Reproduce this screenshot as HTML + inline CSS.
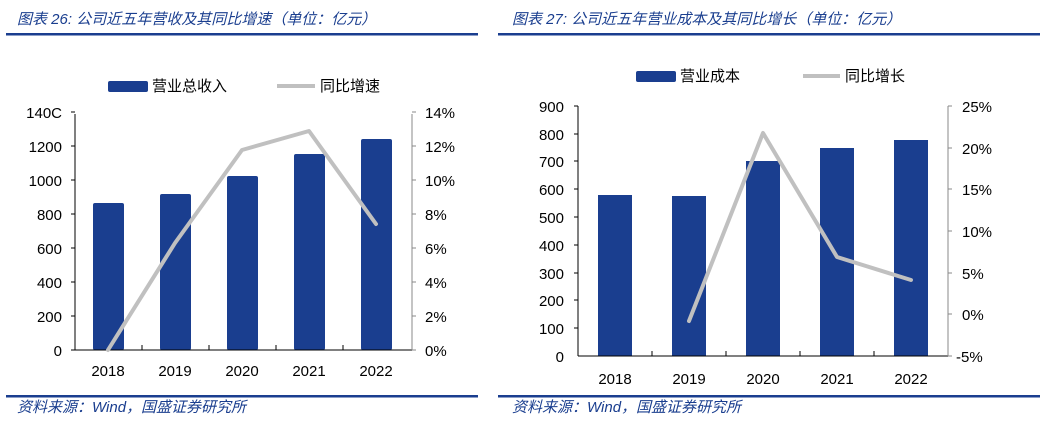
<!DOCTYPE html>
<html><head><meta charset="utf-8"><style>
body{margin:0;background:#fff;}
svg{display:block;font-family:"Liberation Sans","Noto Sans CJK SC",sans-serif;}
.t{font-size:15px;fill:#000}
.ti{font-size:15px;fill:#1a3e8f;font-style:italic}
</style></head><body>
<svg width="1046" height="428" viewBox="0 0 1046 428">
<!-- headers -->
<text x="17" y="24" class="ti">图表 26:  公司近五年营收及其同比增速（单位：亿元）</text>
<rect x="6" y="33" width="472" height="2.5" fill="#1a3e8f"/>
<text x="512" y="24" class="ti">图表 27:  公司近五年营业成本及其同比增长（单位：亿元）</text>
<rect x="498" y="33" width="542" height="2.5" fill="#1a3e8f"/>
<rect x="6" y="395" width="472" height="2.5" fill="#1a3e8f"/>
<rect x="498" y="395" width="542" height="2.5" fill="#1a3e8f"/>
<text x="17" y="412" class="ti">资料来源：Wind，国盛证券研究所</text>
<text x="512" y="412" class="ti">资料来源：Wind，国盛证券研究所</text>

<!-- left chart -->
<rect x="108" y="81" width="40" height="11" rx="2" fill="#1a3e8f"/>
<text x="152" y="91" class="t">营业总收入</text>
<line x1="277" y1="86" x2="315" y2="86" stroke="#c0c0c0" stroke-width="4"/>
<text x="320" y="91" class="t">同比增速</text>
<g fill="#1a3e8f">
<rect x="93" y="203" width="31" height="147" rx="2"/>
<rect x="160" y="194" width="31" height="156" rx="2"/>
<rect x="227" y="176" width="31" height="174" rx="2"/>
<rect x="294" y="154" width="31" height="196" rx="2"/>
<rect x="361" y="139" width="31" height="211" rx="2"/>
</g>
<line x1="75" y1="114" x2="75" y2="350" stroke="#000"/>
<line x1="75" y1="350" x2="412" y2="350" stroke="#000"/>
<line x1="412" y1="114" x2="412" y2="350" stroke="#888"/>
<g stroke="#000">
<line x1="71" y1="112" x2="75" y2="112"/><line x1="71" y1="146" x2="75" y2="146"/><line x1="71" y1="180" x2="75" y2="180"/><line x1="71" y1="214" x2="75" y2="214"/><line x1="71" y1="248" x2="75" y2="248"/><line x1="71" y1="282" x2="75" y2="282"/><line x1="71" y1="316" x2="75" y2="316"/><line x1="71" y1="350" x2="75" y2="350"/>
<line x1="142" y1="345" x2="142" y2="350"/><line x1="209" y1="345" x2="209" y2="350"/><line x1="276" y1="345" x2="276" y2="350"/><line x1="343" y1="345" x2="343" y2="350"/>
</g>
<g stroke="#888">
<line x1="412" y1="112" x2="416" y2="112"/><line x1="412" y1="146" x2="416" y2="146"/><line x1="412" y1="180" x2="416" y2="180"/><line x1="412" y1="214" x2="416" y2="214"/><line x1="412" y1="248" x2="416" y2="248"/><line x1="412" y1="282" x2="416" y2="282"/><line x1="412" y1="316" x2="416" y2="316"/><line x1="412" y1="350" x2="416" y2="350"/>
</g>
<g class="t" text-anchor="end">
<text x="62" y="118" class="t">140C</text><text x="62" y="152" class="t">1200</text><text x="62" y="186" class="t">1000</text><text x="62" y="220" class="t">800</text><text x="62" y="254" class="t">600</text><text x="62" y="288" class="t">400</text><text x="62" y="322" class="t">200</text><text x="62" y="356" class="t">0</text>
</g>
<g>
<text x="425" y="118" class="t">14%</text><text x="425" y="152" class="t">12%</text><text x="425" y="186" class="t">10%</text><text x="425" y="220" class="t">8%</text><text x="425" y="254" class="t">6%</text><text x="425" y="288" class="t">4%</text><text x="425" y="322" class="t">2%</text><text x="425" y="356" class="t">0%</text>
</g>
<g text-anchor="middle">
<text x="108" y="376" class="t">2018</text><text x="175" y="376" class="t">2019</text><text x="242" y="376" class="t">2020</text><text x="309" y="376" class="t">2021</text><text x="376" y="376" class="t">2022</text>
</g>
<polyline points="108,350 175,243 242,150 309,131 376,224" fill="none" stroke="#c0c0c0" stroke-width="4" stroke-linejoin="round" stroke-linecap="round"/>

<!-- right chart -->
<rect x="636" y="71" width="40" height="11" rx="2" fill="#1a3e8f"/>
<text x="680" y="81" class="t">营业成本</text>
<line x1="803" y1="76" x2="840" y2="76" stroke="#c0c0c0" stroke-width="4"/>
<text x="845" y="81" class="t">同比增长</text>
<g fill="#1a3e8f">
<rect x="598" y="195" width="34" height="161"/>
<rect x="672" y="196" width="34" height="160"/>
<rect x="746" y="161" width="34" height="195"/>
<rect x="820" y="148" width="34" height="208"/>
<rect x="894" y="140" width="34" height="216"/>
</g>
<line x1="578" y1="106" x2="578" y2="356" stroke="#000"/>
<line x1="578" y1="356" x2="948" y2="356" stroke="#000"/>
<line x1="948" y1="106" x2="948" y2="356" stroke="#888"/>
<g stroke="#000">
<line x1="574" y1="106" x2="578" y2="106"/><line x1="574" y1="134" x2="578" y2="134"/><line x1="574" y1="161" x2="578" y2="161"/><line x1="574" y1="189" x2="578" y2="189"/><line x1="574" y1="217" x2="578" y2="217"/><line x1="574" y1="245" x2="578" y2="245"/><line x1="574" y1="273" x2="578" y2="273"/><line x1="574" y1="300" x2="578" y2="300"/><line x1="574" y1="328" x2="578" y2="328"/>
<line x1="652" y1="351" x2="652" y2="356"/><line x1="726" y1="351" x2="726" y2="356"/><line x1="800" y1="351" x2="800" y2="356"/><line x1="874" y1="351" x2="874" y2="356"/>
</g>
<g stroke="#888">
<line x1="948" y1="106" x2="952" y2="106"/><line x1="948" y1="148" x2="952" y2="148"/><line x1="948" y1="189" x2="952" y2="189"/><line x1="948" y1="231" x2="952" y2="231"/><line x1="948" y1="273" x2="952" y2="273"/><line x1="948" y1="314" x2="952" y2="314"/><line x1="948" y1="356" x2="952" y2="356"/>
</g>
<g text-anchor="end">
<text x="564" y="112" class="t">900</text><text x="564" y="140" class="t">800</text><text x="564" y="167" class="t">700</text><text x="564" y="195" class="t">600</text><text x="564" y="223" class="t">500</text><text x="564" y="251" class="t">400</text><text x="564" y="279" class="t">300</text><text x="564" y="306" class="t">200</text><text x="564" y="334" class="t">100</text><text x="564" y="362" class="t">0</text>
</g>
<g>
<text x="962" y="112" class="t">25%</text><text x="962" y="154" class="t">20%</text><text x="962" y="195" class="t">15%</text><text x="962" y="237" class="t">10%</text><text x="962" y="279" class="t">5%</text><text x="962" y="320" class="t">0%</text><text x="956" y="362" class="t">-5%</text>
</g>
<g text-anchor="middle">
<text x="615" y="384" class="t">2018</text><text x="689" y="384" class="t">2019</text><text x="763" y="384" class="t">2020</text><text x="837" y="384" class="t">2021</text><text x="911" y="384" class="t">2022</text>
</g>
<polyline points="689,321 763,133 837,257 911,280" fill="none" stroke="#c0c0c0" stroke-width="4" stroke-linejoin="round" stroke-linecap="round"/>
</svg>
</body></html>
